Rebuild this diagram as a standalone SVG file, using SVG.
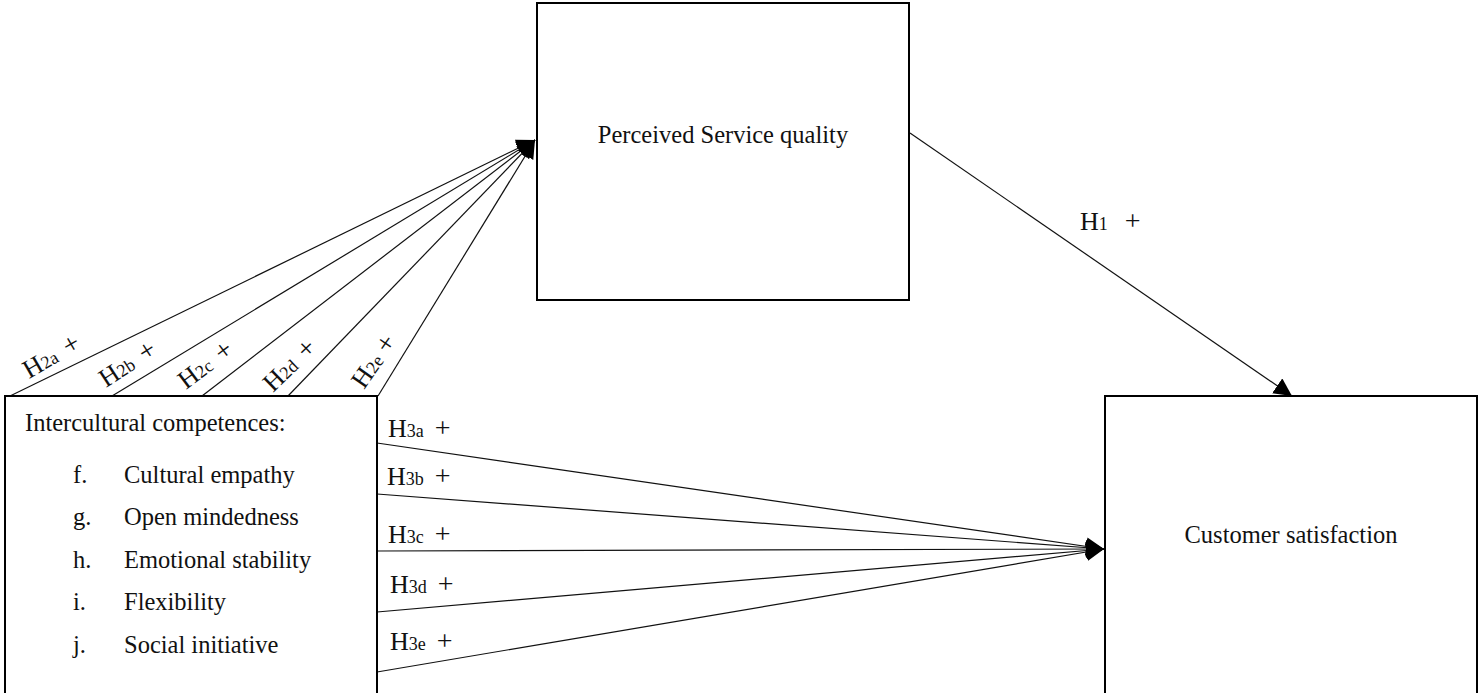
<svg xmlns="http://www.w3.org/2000/svg" width="1478" height="693" viewBox="0 0 1478 693">
<style>
.box{fill:#fff;stroke:#000;stroke-width:2}
.t{font-family:"Liberation Serif","Times New Roman",serif;font-size:24.5px;fill:#111}
.lbl{font-family:"Liberation Serif","Times New Roman",serif;font-size:26px;fill:#111}
.sub{font-size:18px}
.pl{font-size:28px}
.c{fill:none;stroke:#111;stroke-width:1.2}
</style>
<defs>
<marker id="arr" markerUnits="userSpaceOnUse" markerWidth="20" markerHeight="20" refX="18" refY="9" orient="auto">
<path d="M0,0 L18,9 L0,18 Z" fill="#000"/>
</marker>
</defs>
<rect width="1478" height="693" fill="#fff"/>
<g id="connectors">
<line class="c" x1="10" y1="396" x2="535" y2="140" marker-end="url(#arr)"/>
<line class="c" x1="112" y1="396" x2="535" y2="140" marker-end="url(#arr)"/>
<line class="c" x1="202" y1="396" x2="535" y2="140" marker-end="url(#arr)"/>
<line class="c" x1="288" y1="396" x2="535" y2="140" marker-end="url(#arr)"/>
<line class="c" x1="378" y1="396" x2="535" y2="140" marker-end="url(#arr)"/>
<line class="c" x1="910" y1="133" x2="1292" y2="396" marker-end="url(#arr)"/>
<line class="c" x1="377" y1="443" x2="1104" y2="549" marker-end="url(#arr)"/>
<line class="c" x1="377" y1="494" x2="1104" y2="549" marker-end="url(#arr)"/>
<line class="c" x1="377" y1="551" x2="1104" y2="549" marker-end="url(#arr)"/>
<line class="c" x1="377" y1="612" x2="1104" y2="549" marker-end="url(#arr)"/>
<line class="c" x1="377" y1="672" x2="1104" y2="549" marker-end="url(#arr)"/>
</g>
<g id="perceived">
<rect class="box" x="537" y="3" width="372" height="297"/>
<text class="t" x="723" y="143" text-anchor="middle">Perceived Service quality</text>
</g>
<g id="satisfaction">
<rect class="box" x="1105" y="396" width="372" height="310"/>
<text class="t" x="1291" y="543" text-anchor="middle">Customer satisfaction</text>
</g>
<g id="competences">
<rect class="box" x="5" y="396" width="372" height="310"/>
<text class="t" x="25" y="431">Intercultural competences:</text>
<text class="t" x="73" y="483">f.</text><text class="t" x="124" y="483">Cultural empathy</text>
<text class="t" x="73" y="525">g.</text><text class="t" x="124" y="525">Open mindedness</text>
<text class="t" x="73" y="568">h.</text><text class="t" x="124" y="568">Emotional stability</text>
<text class="t" x="73" y="610">i.</text><text class="t" x="124" y="610">Flexibility</text>
<text class="t" x="73" y="653">j.</text><text class="t" x="124" y="653">Social initiative</text>
</g>
<g id="labels">
<text class="lbl" transform="translate(29,379) rotate(-30)">H<tspan class="sub">2a</tspan><tspan class="pl" dx="10">+</tspan></text>
<text class="lbl" transform="translate(106,388) rotate(-33)">H<tspan class="sub">2b</tspan><tspan class="pl" dx="10">+</tspan></text>
<text class="lbl" transform="translate(186,390) rotate(-37)">H<tspan class="sub">2c</tspan><tspan class="pl" dx="10">+</tspan></text>
<text class="lbl" transform="translate(273,393) rotate(-44)">H<tspan class="sub">2d</tspan><tspan class="pl" dx="10">+</tspan></text>
<text class="lbl" transform="translate(364,390) rotate(-55)">H<tspan class="sub">2e</tspan><tspan class="pl" dx="7">+</tspan></text>
<text class="lbl" x="1080" y="230">H<tspan class="sub">1</tspan><tspan class="pl" dx="17">+</tspan></text>
<text class="lbl" x="388" y="437">H<tspan class="sub">3a</tspan><tspan class="pl" dx="11">+</tspan></text>
<text class="lbl" x="387" y="485">H<tspan class="sub">3b</tspan><tspan class="pl" dx="11">+</tspan></text>
<text class="lbl" x="388" y="543">H<tspan class="sub">3c</tspan><tspan class="pl" dx="11">+</tspan></text>
<text class="lbl" x="390" y="593">H<tspan class="sub">3d</tspan><tspan class="pl" dx="11">+</tspan></text>
<text class="lbl" x="390" y="650">H<tspan class="sub">3e</tspan><tspan class="pl" dx="11">+</tspan></text>
</g>
</svg>
